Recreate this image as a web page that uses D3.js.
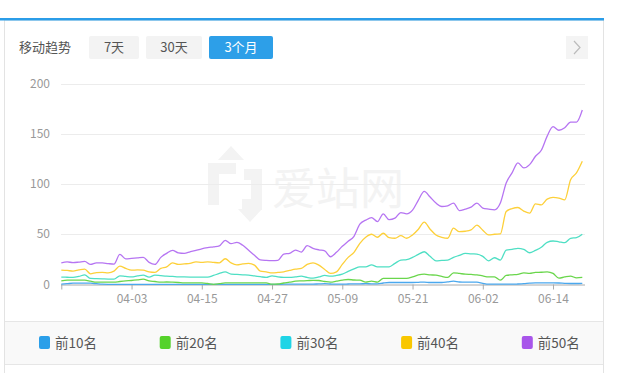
<!DOCTYPE html>
<html>
<head>
<meta charset="utf-8">
<script src="https://cdn.jsdelivr.net/npm/d3@7"></script>
<style>
  body { margin: 0; background: #fff; }
  svg { display: block; font-family: "Noto Sans CJK SC", "Noto Sans", sans-serif; }
</style>
</head>
<body>
<svg width="623" height="373"></svg>
<script>
// daily counts, 03-22 .. 06-19
var top10 = [0.3,0.8,1.3,1.3,1.3,1.3,0.8,0.3,0.2,0.2,0.2,0.2,0.2,0.2,0.2,0.2,0.2,0.2,0.2,0.2,
  0.2,0.2,0.2,0.2,0.2,0.2,0.2,0.2,0.2,0.2,0.2,0.2,0.2,0.2,0.2,0.2,0.2,0.2,0.3,0.3,
  0.3,0.3,0.3,0.4,0.6,0.8,0.5,0.3,0.3,0.5,0.7,0.7,0.8,0.7,0.7,1.5,2,2,2,2,
  2,2.2,2.4,2,2,2,2.6,3.3,2.5,2.3,2.3,2.3,1.2,0.4,0.3,0.3,0.3,0.3,0.5,0.8,
  1.3,1.6,1.6,1.6,1.6,1.5,1.2,1,1,1.2];
var top20 = [3.6,4.3,4.3,4.3,4.3,3.3,2.3,2.3,2.3,2.3,3,3.6,4,4.6,5.3,3.6,3,2.3,2.5,2.3,
  2,1.6,1.6,1.6,1.6,1,0.2,0.8,1.6,1.6,1.6,1.6,1.6,1.6,1.6,1.6,0.3,0.5,1.5,2.3,
  3.3,3.6,3.8,4.2,4,3,2.3,3.3,4.3,5,4.5,4.3,2.3,3.3,2.3,6,6,6,6,6,
  7.5,9.5,10.3,9.6,9.3,8,7,11.6,11,10.3,10,9.6,8.5,7.6,7.6,4.3,9,9.6,10,11.6,
  11,12,12.2,12.6,11,6.3,7.5,8.3,6.6,7];
var top30 = [7.3,7.2,7,8,9.6,6,5.8,5.6,5.4,5.3,8.6,8,7.6,8.5,9.3,7.3,9.3,8.8,8.3,8,
  7.6,7.5,7.4,7.3,7.3,7.3,9,11,12.6,10.3,10,9.6,9.3,8.5,7.8,7,8.6,7.5,7,7,
  7.6,8.3,7,6.3,7.5,9,8.3,9,10.3,13,15.5,17.6,17.6,19.6,17.6,17.6,17.6,21,24.3,24.8,
  27,30,32.6,28,23.6,24,24.3,27,29,31,30.5,30.3,28,23.6,26.6,24.3,34.3,35,36,35,
  31.6,34,37,42,43.3,42.5,41.6,46,46.6,50];
var top40 = [14.3,14,13.3,14.5,15.3,10.6,11.8,12,11.6,13.3,18.3,16,14.3,14.5,14.3,12.5,12,16,17.6,21.6,
  20,20.5,21,22.6,22,22.6,22,21.6,25.6,21.5,19.6,20.5,21,19.3,13.3,12.5,11.6,12,12.6,14,
  15.3,16,20,21.6,19.3,15,11,12.6,20,27,32,41,47,50,47,51,46.6,46,48.6,46,
  49.3,55,62,55,49.3,47,46,56,52.6,53,54.3,59,54,49.3,50,50.3,72.6,75.5,76.6,73,
  71,80.3,79.3,85,86.6,86,84.3,104.3,111,122.6];
var top50 = [21.6,22.5,21.8,22.3,23,20,21.6,21.5,20.8,20.3,30,25.5,26,26.5,27,22,20,27,31,34,
  31.5,31,32.5,34,35.5,36.6,37.5,38.5,44,40.6,42,39,34,29,24.5,24,23.8,24,30.3,31,
  34.3,32.3,38.6,36,34.5,33.5,27.6,32,38,43,48,60,64,66.6,62.6,70.3,64.5,66,71.6,70.3,
  74,84,92.6,87,81,77.6,78.3,81,73.6,75,77,81,76,75,74.3,81,101,111,121,116,
  119.3,127.6,133.6,147.6,157,153.5,156,161.6,161.6,173.6];

var seriesNames = ["前10名", "前20名", "前30名", "前40名", "前50名"];
var legendColors = ["#2b9fe9", "#55d22b", "#20d4e6", "#f9c700", "#a855ea"];
var lineColors = ["#4aa8ee", "#6ad64c", "#4fdfc4", "#fdd03a", "#b675f2"];
var yTicks = [0, 50, 100, 150, 200];
var xTickLabels = ["04-03", "04-15", "04-27", "05-09", "05-21", "06-02", "06-14"];
var tabs = ["7天", "30天", "3个月"];

var startDay = new Date(2019, 2, 22);
var days = d3.timeDay.range(startDay, d3.timeDay.offset(startDay, top50.length));
var parseTick = d3.timeParse("%Y-%m-%d");

var svg = d3.select("svg");

// frame
svg.append("rect").attr("x", 4.5).attr("y", 20).attr("width", 599).attr("height", 360)
  .attr("fill", "#fff").attr("stroke", "#e3e3e3");
svg.append("rect").attr("x", 0).attr("y", 18).attr("width", 604).attr("height", 2.5).attr("fill", "#2b9de8");

// header
svg.append("text").attr("x", 19).attr("y", 52).attr("font-size", 13).attr("fill", "#555").text("移动趋势");
var tabX = [89, 146, 209], tabW = [50, 56, 64];
tabs.forEach(function(t, i) {
  var active = i == 2;
  svg.append("rect").attr("x", tabX[i]).attr("y", 36).attr("width", tabW[i]).attr("height", 23).attr("rx", 2)
    .attr("fill", active ? "#2d9fe8" : "#f3f3f3");
  svg.append("text").attr("x", tabX[i] + tabW[i] / 2).attr("y", 52).attr("text-anchor", "middle")
    .attr("font-size", 13).attr("fill", active ? "#fff" : "#555").text(t);
});
svg.append("rect").attr("x", 566).attr("y", 36).attr("width", 22).attr("height", 23).attr("fill", "#f4f4f4");
svg.append("path").attr("d", "M574,41 L580,47.5 L574,54").attr("fill", "none").attr("stroke", "#bbb").attr("stroke-width", 1.2);

// scales
var x = d3.scaleTime().domain([days[0], days[days.length - 1]]).range([61.3, 582.3]);
var y = d3.scaleLinear().domain([0, 200]).range([284.5, 83.5]);

// watermark
var wm = svg.append("g").attr("fill", "#f3f3f3");
wm.append("path").attr("d", "M208,163 L236,163 L236,174 L219,174 L219,205 L208,205 Z M244,169 L262,169 L262,210 L242,210 L242,199 L251,199 L251,180 L244,180 Z");
wm.append("path").attr("d", "M218,160 L231,146 L244,160 Z M238,209 L250,222 L262,209 Z");
wm.append("text").attr("x", 272).attr("y", 205).attr("font-size", 44).text("爱站网");

// grid
svg.append("g").selectAll("line").data(yTicks.slice(1)).enter().append("line")
  .attr("x1", 61).attr("x2", 585)
  .attr("y1", function(d) { return Math.round(y(d)) + 0.5; })
  .attr("y2", function(d) { return Math.round(y(d)) + 0.5; })
  .attr("stroke", "#ececec");

svg.append("g").selectAll("text").data(yTicks).enter().append("text")
  .attr("x", 50).attr("y", function(d) { return y(d) + 4; })
  .attr("text-anchor", "end").attr("font-size", 12).attr("fill", "#999")
  .text(function(d) { return d; });

// x axis
var tickDates = [days[0]].concat(xTickLabels.map(function(t) { return parseTick("2019-" + t); }));
var xAxis = svg.append("g").attr("transform", "translate(0,284.5)")
  .call(d3.axisBottom(x).tickValues(tickDates).tickSize(5).tickSizeOuter(0)
    .tickFormat(function(d, i) { return i == 0 ? "" : d3.timeFormat("%m-%d")(d); }));
xAxis.select(".domain").attr("d", "M61,0.5H585").attr("stroke", "#aaa");
xAxis.selectAll(".tick line").attr("stroke", "#aaa");
xAxis.selectAll(".tick text").attr("fill", "#999").attr("font-size", 12)
  .attr("font-family", "\"Noto Sans CJK SC\", sans-serif").attr("dy", "0.9em");

// lines
var all = [top10, top20, top30, top40, top50];
var line = d3.line()
  .x(function(d, i) { return x(days[i]); })
  .y(function(d) { return y(d); })
  .curve(d3.curveMonotoneX);

svg.append("g").selectAll("path").data(all).enter().append("path")
  .attr("d", line)
  .attr("fill", "none")
  .attr("stroke", function(d, i) { return lineColors[i]; })
  .attr("stroke-width", 1.3);

// legend band
svg.append("rect").attr("x", 5).attr("y", 321).attr("width", 598).attr("height", 44).attr("fill", "#f9f9f9");
svg.append("line").attr("x1", 5).attr("x2", 603).attr("y1", 321.5).attr("y2", 321.5).attr("stroke", "#e6e6e6");
svg.append("line").attr("x1", 5).attr("x2", 603).attr("y1", 364.5).attr("y2", 364.5).attr("stroke", "#e6e6e6");

var legend = svg.append("g").selectAll("g").data(seriesNames).enter().append("g")
  .attr("transform", function(d, i) { return "translate(" + (39 + i * 120.7) + ",336)"; });
legend.append("rect").attr("width", 11).attr("height", 13).attr("rx", 2)
  .attr("fill", function(d, i) { return legendColors[i]; });
legend.append("text").attr("x", 16).attr("y", 11.5).attr("font-size", 13.5).attr("fill", "#555")
  .text(function(d) { return d; });
</script>
</body>
</html>
